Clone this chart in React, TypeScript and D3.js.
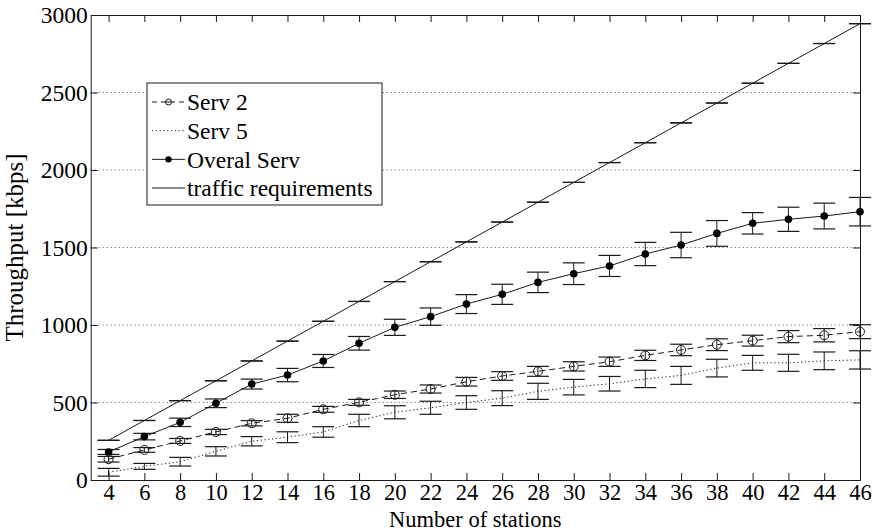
import React, { useEffect, useRef } from "react";
import * as d3 from "d3";

const stations = [4, 6, 8, 10, 12, 14, 16, 18, 20, 22, 24, 26, 28, 30, 32, 34, 36, 38, 40, 42, 44, 46];
const traffic = [256, 384, 512, 640, 768, 896, 1024, 1152, 1280, 1408, 1536, 1664, 1792, 1920, 2048, 2176, 2304, 2432, 2560, 2688, 2816, 2944];
const overall = [181, 280, 372, 495, 619, 677, 768, 882, 985, 1054, 1135, 1198, 1275, 1331, 1381, 1458, 1516, 1591, 1656, 1682, 1703, 1731];
const overallErr = [16, 21, 27, 28, 32, 43, 42, 44, 52, 56, 61, 65, 66, 70, 68, 75, 82, 83, 69, 78, 83, 92];
const serv2 = [134, 194, 252, 310, 366, 398, 456, 501, 550, 587, 634, 671, 701, 733, 763, 804, 839, 873, 899, 925, 934, 957];
const serv2Err = [18, 15, 16, 17, 17, 26, 19, 19, 24, 26, 28, 28, 32, 30, 30, 33, 37, 38, 35, 39, 43, 45];
const serv5 = [50, 88, 118, 185, 250, 276, 310, 384, 437, 466, 500, 528, 572, 599, 621, 652, 675, 722, 756, 756, 769, 775];
const serv5Err = [25, 19, 28, 30, 30, 35, 34, 40, 42, 42, 44, 48, 52, 50, 47, 56, 58, 57, 48, 55, 57, 59];
const yTicks = [0, 500, 1000, 1500, 2000, 2500, 3000];
const legendNames = ["Serv 2", "Serv 5", "Overal Serv", "traffic requirements"];

const FONT = "Liberation Serif, Times New Roman, Times, DejaVu Serif, serif";
const INK = "#1a1a1a";

const drawChart = (ref) => {
    const svg = d3.select(ref);
    svg.selectAll("*").remove();

    const left = 90.7, right = 860, top = 15, bottom = 480;
    const x = d3.scaleLinear().domain([3, 46]).range([left, right]);
    const y = d3.scaleLinear().domain([0, 3000]).range([bottom, top]);

    // dotted grid
    svg.append("g")
        .selectAll("line")
        .data(yTicks.filter((t) => t > 0 && t < 3000))
        .enter()
        .append("line")
        .attr("x1", left)
        .attr("x2", right)
        .attr("y1", (d) => y(d))
        .attr("y2", (d) => y(d))
        .attr("stroke", "#555")
        .attr("stroke-width", 1)
        .attr("stroke-dasharray", "1,3");

    const styleAxis = (g, size) => {
        g.attr("font-family", FONT).attr("font-size", size);
        g.select(".domain").attr("stroke", INK);
        g.selectAll(".tick line").attr("stroke", INK);
        g.selectAll("text").attr("fill", "#000");
    };

    svg.append("g")
        .attr("transform", `translate(0,${bottom})`)
        .call(d3.axisBottom(x).tickValues(stations).tickSize(-7).tickSizeOuter(0).tickPadding(4))
        .call(styleAxis, 22.5);
    svg.append("g")
        .attr("transform", `translate(0,${top})`)
        .call(d3.axisTop(x).tickValues(stations).tickSize(-7).tickSizeOuter(0).tickFormat(() => ""))
        .call(styleAxis, 22.5);
    svg.append("g")
        .attr("transform", `translate(${left},0)`)
        .call(d3.axisLeft(y).tickValues(yTicks).tickSize(-7).tickSizeOuter(0).tickPadding(3).tickFormat(d3.format("d")))
        .call(styleAxis, 23.5);
    svg.append("g")
        .attr("transform", `translate(${right},0)`)
        .call(d3.axisRight(y).tickValues(yTicks).tickSize(-7).tickSizeOuter(0).tickFormat(() => ""))
        .call(styleAxis, 23.5);

    const cap = 11;
    const drawSeries = (vals, errs, dash, marker) => {
        const g = svg.append("g");
        const pts = stations.map((s, i) => ({ s, v: vals[i], e: errs ? errs[i] : 0 }));
        const line = d3.line().x((d) => x(d.s)).y((d) => y(d.v));
        g.append("path")
            .datum(pts)
            .attr("d", line)
            .attr("fill", "none")
            .attr("stroke", INK)
            .attr("stroke-width", 1)
            .attr("stroke-dasharray", dash);
        const bars = g.selectAll("g.err").data(pts).enter().append("g").attr("class", "err");
        bars.append("line")
            .attr("x1", (d) => x(d.s))
            .attr("x2", (d) => x(d.s))
            .attr("y1", (d) => y(d.v - d.e))
            .attr("y2", (d) => y(d.v + d.e))
            .attr("stroke", INK);
        [-1, 1].forEach((k) => {
            bars.append("line")
                .attr("x1", (d) => x(d.s) - cap)
                .attr("x2", (d) => x(d.s) + cap)
                .attr("y1", (d) => y(d.v + k * d.e))
                .attr("y2", (d) => y(d.v + k * d.e))
                .attr("stroke", INK)
                .attr("stroke-width", 1.2);
        });
        if (marker === "open") {
            g.selectAll("circle").data(pts).enter().append("circle")
                .attr("cx", (d) => x(d.s)).attr("cy", (d) => y(d.v)).attr("r", 4.5)
                .attr("fill", "none").attr("stroke", INK).attr("stroke-width", 1);
        } else if (marker === "filled") {
            g.selectAll("circle").data(pts).enter().append("circle")
                .attr("cx", (d) => x(d.s)).attr("cy", (d) => y(d.v)).attr("r", 3.8)
                .attr("fill", "#000");
        }
    };

    drawSeries(traffic, null, null, null);
    drawSeries(serv5, serv5Err, "1.2,2.6", null);
    drawSeries(serv2, serv2Err, "6,4", "open");
    drawSeries(overall, overallErr, null, "filled");

    // axis titles
    svg.append("text")
        .attr("x", (left + right) / 2)
        .attr("y", 526.5)
        .attr("text-anchor", "middle")
        .attr("font-family", FONT)
        .attr("font-size", 22.5)
        .text("Number of stations");
    svg.append("text")
        .attr("transform", `translate(23,${(top + bottom) / 2}) rotate(-90)`)
        .attr("text-anchor", "middle")
        .attr("font-family", FONT)
        .attr("font-size", 25)
        .text("Throughput [kbps]");

    // legend
    const lg = svg.append("g").attr("transform", "translate(147,83)");
    lg.append("rect").attr("width", 235).attr("height", 122).attr("fill", "#fff").attr("stroke", INK);
    const rowY = d3.scaleLinear().domain([0, 3]).range([19, 105]);
    const styles = [
        { dash: "5,4", marker: "open" },
        { dash: "1.2,2.6", marker: null },
        { dash: null, marker: "filled" },
        { dash: null, marker: null },
    ];
    legendNames.forEach((name, i) => {
        const yy = rowY(i);
        lg.append("line")
            .attr("x1", 5).attr("x2", 38).attr("y1", yy).attr("y2", yy)
            .attr("stroke", INK).attr("stroke-dasharray", styles[i].dash);
        if (styles[i].marker === "open") {
            lg.append("circle").attr("cx", 21.5).attr("cy", yy).attr("r", 3).attr("fill", "#fff").attr("stroke", INK);
            lg.append("line").attr("x1", 18.5).attr("x2", 24.5).attr("y1", yy).attr("y2", yy).attr("stroke", INK);
        } else if (styles[i].marker === "filled") {
            lg.append("circle").attr("cx", 21.5).attr("cy", yy).attr("r", 3.2).attr("fill", "#000");
        }
        lg.append("text")
            .attr("x", 40)
            .attr("y", yy)
            .attr("dy", "0.35em")
            .attr("font-family", FONT)
            .attr("font-size", 23.5)
            .text(name);
    });
};

export default function App() {
    const svgRef = useRef(null);
    useEffect(() => {
        drawChart(svgRef.current);
    }, []);
    return (
        <svg
            ref={svgRef}
            width={874}
            height={532}
            style={{ position: "absolute", left: 0, top: 0, background: "#fff" }}
        />
    );
}
